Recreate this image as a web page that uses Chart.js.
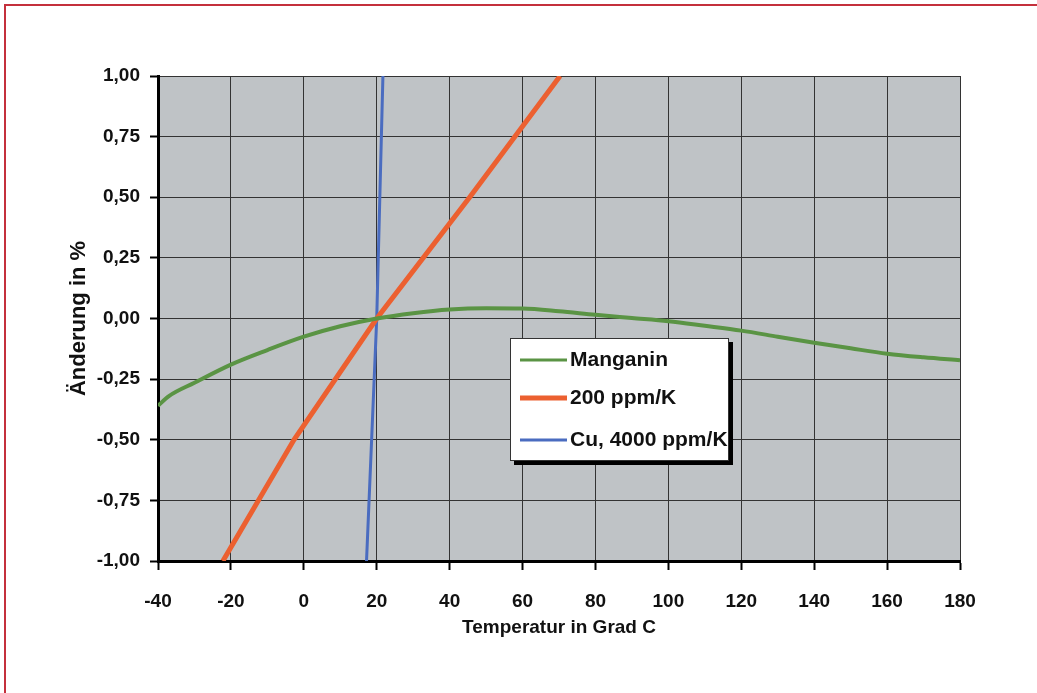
<!DOCTYPE html>
<html>
<head>
<meta charset="utf-8">
<script src="https://cdn.jsdelivr.net/npm/chart.js@4/dist/chart.umd.min.js"></script>
<style>
  html, body { margin: 0; padding: 0; background: #fff; }
  canvas { display: block; }
</style>
</head>
<body>
<canvas id="c" width="1037" height="693"></canvas>
<script>
// values (temperature in °C, change in %)
const manganinT = [-40, -37, -30, -20, -10, 0, 10, 20, 30, 40, 50, 60, 70, 80, 90, 100, 110, 120, 130, 140, 150, 160, 170, 180];
const manganinY = [-0.36, -0.32, -0.265, -0.19, -0.13, -0.075, -0.032, 0, 0.022, 0.037, 0.042, 0.041, 0.03, 0.015, 0.002, -0.011, -0.03, -0.05, -0.075, -0.1, -0.123, -0.145, -0.16, -0.172];
const ppm200T = [-22.2, -2.7, 20, 45.5, 70.3];
const ppm200Y = [-1, -0.5, 0, 0.5, 1];
const cuT = [17.2, 20, 21.7];
const cuY = [-1, 0, 1];
const seriesNames = ['Manganin', '200 ppm/K', 'Cu, 4000 ppm/K'];
const seriesColors = ['#5a9444', '#ec6030', '#4a6cc0'];
const xTitle = 'Temperatur in Grad C';
const yTitle = 'Änderung in %';

const pts = (xs, ys) => xs.map((x, i) => ({ x, y: ys[i] }));

const FONT = "'Liberation Sans', Arial, sans-serif";

// grey plot area + red frame on the page
const backdrop = {
    id: 'backdrop',
    beforeDraw(chart) {
        const { ctx, chartArea: a } = chart;
        ctx.save();
        ctx.fillStyle = '#bfc3c6';
        ctx.fillRect(a.left, a.top, a.right - a.left, a.bottom - a.top);
        ctx.fillStyle = '#c4303c';
        ctx.fillRect(4, 4, chart.width - 4, 2);
        ctx.fillRect(4, 4, 2, chart.height - 4);
        ctx.restore();
    }
};

// legend box inside the plot, like the original
const boxLegend = {
    id: 'boxLegend',
    afterDraw(chart) {
        const { ctx } = chart;
        const x = 510, y = 338, w = 219, h = 123;
        ctx.save();
        ctx.fillStyle = '#000';
        ctx.fillRect(x + 4, y + 4, w, h);
        ctx.fillStyle = '#fff';
        ctx.fillRect(x, y, w, h);
        ctx.strokeStyle = '#333';
        ctx.lineWidth = 1;
        ctx.strokeRect(x + 0.5, y + 0.5, w - 1, h - 1);
        ctx.font = "bold 21px " + FONT;
        ctx.textBaseline = 'middle';
        const rows = [22, 60, 102];
        chart.data.datasets.forEach((ds, i) => {
            const ry = y + rows[i];
            ctx.strokeStyle = ds.borderColor;
            ctx.lineWidth = i === 1 ? 5 : 3;
            ctx.beginPath();
            ctx.moveTo(x + 10, ry);
            ctx.lineTo(x + 57, ry);
            ctx.stroke();
            ctx.fillStyle = '#111';
            ctx.fillText(ds.label, x + 60, ry);
        });
        ctx.restore();
    }
};

const fmt = v => v.toFixed(2).replace('.', ',');

new Chart(document.getElementById('c'), {
    type: 'line',
    data: {
        datasets: [
            {
                label: seriesNames[0],
                data: pts(manganinT, manganinY),
                borderColor: seriesColors[0],
                borderWidth: 4,
                pointRadius: 0,
                cubicInterpolationMode: 'monotone'
            },
            {
                label: seriesNames[1],
                data: pts(ppm200T, ppm200Y),
                borderColor: seriesColors[1],
                borderWidth: 5,
                pointRadius: 0
            },
            {
                label: seriesNames[2],
                data: pts(cuT, cuY),
                borderColor: seriesColors[2],
                borderWidth: 3,
                pointRadius: 0
            }
        ]
    },
    options: {
        responsive: false,
        animation: false,
        layout: { padding: { left: 60, top: 76, right: 77, bottom: 50 } },
        plugins: { legend: { display: false }, tooltip: { enabled: false } },
        scales: {
            x: {
                type: 'linear',
                min: -40, max: 180,
                afterFit: s => { s.height = 82; },
                ticks: { stepSize: 20, color: '#111', padding: 20, font: { family: FONT, size: 19, weight: 'bold' } },
                grid: { color: '#333', lineWidth: 1, tickColor: '#000', tickWidth: 2, tickLength: 9 },
                border: { color: '#000', width: 3 },
                title: { display: true, text: xTitle, color: '#111', padding: { top: 0, bottom: 4 }, font: { family: FONT, size: 19, weight: 'bold' } }
            },
            y: {
                min: -1, max: 1,
                afterFit: s => { s.width = 98; },
                ticks: { stepSize: 0.25, color: '#111', padding: 10, callback: v => fmt(v), font: { family: FONT, size: 19, weight: 'bold' } },
                grid: { color: '#333', lineWidth: 1, tickColor: '#000', tickWidth: 2, tickLength: 8 },
                border: { color: '#000', width: 3 },
                title: { display: true, text: yTitle, color: '#111', padding: { top: 6, bottom: 0 }, font: { family: FONT, size: 22, weight: 'bold' } }
            }
        }
    },
    plugins: [backdrop, boxLegend]
});
</script>
</body>
</html>
